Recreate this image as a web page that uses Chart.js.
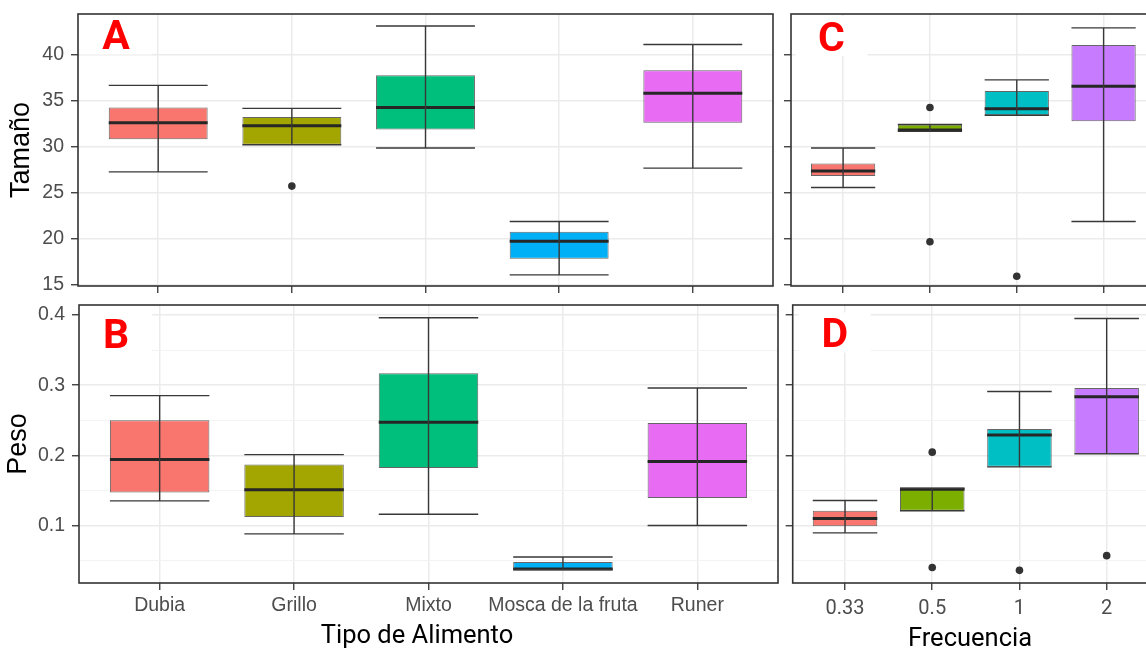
<!DOCTYPE html>
<html><head><meta charset="utf-8">
<script src="https://cdn.jsdelivr.net/npm/chart.js@4.4.1/dist/chart.umd.min.js"></script>
<style>
html,body{margin:0;padding:0;overflow:hidden;background:#fff;}
#wrap{position:relative;width:1146px;height:654px;overflow:hidden;background:#fff;}
canvas{position:absolute;}
</style></head><body>
<div id="wrap">
<canvas id="cA" width="780" height="300" style="left:0;top:0;width:780px;height:300px"></canvas>
<canvas id="cC" width="400" height="300" style="left:780px;top:0;width:400px;height:300px"></canvas>
<canvas id="cB" width="785" height="364" style="left:0;top:290px;width:785px;height:364px"></canvas>
<canvas id="cD" width="400" height="364" style="left:780px;top:290px;width:400px;height:364px"></canvas>
</div>
<script>
// ---------- categories & tick labels ----------
const foodTypes = ['Dubia', 'Grillo', 'Mixto', 'Mosca de la fruta', 'Runer'];
const freqLabels = ['0.33', '0.5', '1', '2'];
const foodColors = ['#F8766D', '#A3A500', '#00BF7D', '#00B0F6', '#E76BF3'];
const freqColors = ['#F8766D', '#7CAE00', '#00BFC4', '#C77CFF'];
const sizeTicks = [15, 20, 25, 30, 35, 40];
const sizeMinorTicks = [17.5, 22.5, 27.5, 32.5, 37.5, 42.5];
const weightTicks = [0.1, 0.2, 0.3, 0.4];
const weightMinorTicks = [0.05, 0.15, 0.25, 0.35];
const sizeRange = [14.89, 44.46];
const weightRange = [0.018, 0.4142];

// ---------- A: Tamaño by Tipo de Alimento ----------
const sizeFoodLow  = [27.3, 30.25, 29.9, 16.1, 27.7];
const sizeFoodQ1   = [30.85, 30.25, 31.9, 17.85, 32.65];
const sizeFoodMed  = [32.65, 32.3, 34.3, 19.75, 35.85];
const sizeFoodQ3   = [34.3, 33.25, 37.8, 20.8, 38.35];
const sizeFoodHigh = [36.7, 34.2, 43.15, 21.9, 41.15];
const sizeFoodOut  = [[], [25.75], [], [], []];

// ---------- B: Peso by Tipo de Alimento ----------
const weightFoodLow  = [0.135, 0.088, 0.116, 0.037, 0.100];
const weightFoodQ1   = [0.147, 0.112, 0.182, 0.037, 0.139];
const weightFoodMed  = [0.194, 0.151, 0.247, 0.038, 0.191];
const weightFoodQ3   = [0.250, 0.187, 0.317, 0.048, 0.246];
const weightFoodHigh = [0.285, 0.201, 0.396, 0.055, 0.296];
const weightFoodOut  = [[], [], [], [], []];

// ---------- C: Tamaño by Frecuencia ----------
const sizeFreqLow  = [25.6, 31.7, 33.45, 21.9];
const sizeFreqQ1   = [26.85, 31.7, 33.45, 32.8];
const sizeFreqMed  = [27.4, 31.85, 34.15, 36.6];
const sizeFreqQ3   = [28.2, 32.45, 36.1, 41.1];
const sizeFreqHigh = [29.9, 32.45, 37.3, 42.95];
const sizeFreqOut  = [[], [34.3, 19.7], [15.95], []];

// ---------- D: Peso by Frecuencia ----------
const weightFreqLow  = [0.0895, 0.121, 0.1835, 0.202];
const weightFreqQ1   = [0.099, 0.121, 0.1835, 0.202];
const weightFreqMed  = [0.110, 0.1515, 0.229, 0.2835];
const weightFreqQ3   = [0.121, 0.153, 0.2375, 0.296];
const weightFreqHigh = [0.1355, 0.153, 0.291, 0.395];
const weightFreqOut  = [[], [0.2045, 0.040], [0.036], [0.057]];

function zeroPad(ax) { ax.paddingTop = 0; ax.paddingBottom = 0; ax.paddingLeft = 0; ax.paddingRight = 0; }

function makeChart(id, c) {
  const n = c.cats.length;
  const pos = c.cats.map((_, i) => i + 1);
  const boxData = pos.map((p, i) => ({x: p, y: [c.q1[i], c.q3[i]]}));
  const outData = [];
  c.out.forEach((arr, i) => arr.forEach(v => outData.push({x: i + 1, y: v})));
  const yTickVals = c.major.concat(c.minor).sort((a, b) => a - b);
  const isMajor = v => c.major.some(m => Math.abs(m - v) < 1e-9);

  const extras = {
    id: 'extras_' + id,
    beforeDatasetsDraw(chart) {
      const {ctx, chartArea: a} = chart;
      const lx = a.left + c.letterDx, ly = a.top + c.letterDy;
      ctx.save();
      ctx.fillStyle = '#ffffff';
      ctx.fillRect(lx - 36, ly - 14.5 - 20, 72, 40);
      ctx.font = 'bold 41px Roboto';
      ctx.fillStyle = '#FF0000';
      ctx.textAlign = 'center';
      ctx.textBaseline = 'alphabetic';
      ctx.fillText(c.letter, lx, ly);
      ctx.restore();
    },
    afterDatasetsDraw(chart) {
      const {ctx} = chart;
      const meta = chart.getDatasetMeta(0);
      const ys = chart.scales.y;
      ctx.save();
      meta.data.forEach((bar, i) => {
        const x = bar.x, hw = bar.width / 2;
        const yl = ys.getPixelForValue(c.low[i]);
        const yh = ys.getPixelForValue(c.high[i]);
        const ym = ys.getPixelForValue(c.med[i]);
        ctx.strokeStyle = '#262626';
        ctx.lineWidth = 3;
        ctx.beginPath(); ctx.moveTo(x - hw, ym); ctx.lineTo(x + hw, ym); ctx.stroke();
        ctx.strokeStyle = '#383838';
        ctx.lineWidth = 1.4;
        ctx.beginPath();
        ctx.moveTo(x, yl); ctx.lineTo(x, yh);
        ctx.moveTo(x - hw, yl); ctx.lineTo(x + hw, yl);
        ctx.moveTo(x - hw, yh); ctx.lineTo(x + hw, yh);
        ctx.stroke();
      });
      ctx.restore();
    },
    afterDraw(chart) {
      const {ctx, chartArea: a} = chart;
      ctx.save();
      ctx.strokeStyle = '#333333';
      ctx.lineWidth = 1.6;
      ctx.strokeRect(a.left, a.top, a.right - a.left, a.bottom - a.top);
      if (c.xTitle) {
        ctx.font = '25.5px Roboto';
        ctx.fillStyle = '#000000';
        ctx.textAlign = 'center';
        ctx.textBaseline = 'alphabetic';
        ctx.fillText(c.xTitle, c.xTitleX, c.xTitleY);
      }
      ctx.restore();
    }
  };

  return new Chart(document.getElementById(id), {
    type: 'bar',
    data: {
      datasets: [
        {
          type: 'bar',
          data: boxData,
          backgroundColor: c.colors,
          borderColor: 'rgba(51,51,51,0.75)',
          borderWidth: 1,
          borderSkipped: false,
          categoryPercentage: 1,
          barPercentage: 0.74
        },
        {
          type: 'scatter',
          data: outData,
          showLine: false,
          pointRadius: 3.8,
          pointBackgroundColor: '#333333',
          pointBorderWidth: 0
        }
      ]
    },
    options: {
      responsive: false,
      animation: false,
      devicePixelRatio: 1,
      layout: {padding: {top: c.padTop, right: c.padRight, left: 0, bottom: 0}},
      plugins: {legend: {display: false}, tooltip: {enabled: false}},
      scales: {
        x: {
          type: 'linear',
          offset: false,
          bounds: 'data',
          min: 0.4,
          max: n + 0.6,
          afterBuildTicks: ax => { ax.ticks = pos.map(v => ({value: v})); },
          afterFit: ax => { ax.height = c.xH; zeroPad(ax); },
          ticks: {
            autoSkip: false, maxRotation: 0, minRotation: 0,
            padding: c.xTickPad,
            font: {family: c.tickFont, size: c.tickSize},
            color: '#4D4D4D',
            callback: v => c.showX ? c.cats[Math.round(v) - 1] : ''
          },
          grid: {offset: false, color: '#EBEBEB', lineWidth: 1.5, tickLength: 7, tickColor: '#333333', tickWidth: 1.3},
          border: {display: false}
        },
        y: {
          type: 'linear',
          bounds: 'data',
          min: c.range[0],
          max: c.range[1],
          afterBuildTicks: ax => { ax.ticks = yTickVals.map(v => ({value: v})); },
          afterFit: ax => { ax.width = c.yW; zeroPad(ax); },
          ticks: {
            padding: 7,
            font: {family: c.tickFont, size: c.tickSize},
            color: '#4D4D4D',
            callback: v => (c.showY && isMajor(v)) ? c.fmt(v) : ''
          },
          grid: {
            color: ctx => isMajor(ctx.tick.value) ? '#EBEBEB' : '#F3F3F3',
            lineWidth: ctx => isMajor(ctx.tick.value) ? 1.5 : 1,
            tickColor: ctx => isMajor(ctx.tick.value) ? '#333333' : 'rgba(0,0,0,0)',
            tickLength: 7,
            tickWidth: 1.3
          },
          border: {display: false},
          title: c.yTitle ? {
            display: true, text: c.yTitle, color: '#000000',
            font: {family: 'Liberation Sans', size: 27},
            padding: {top: c.yTitlePad, bottom: 0}
          } : {display: false}
        }
      }
    },
    plugins: [extras]
  });
}

makeChart('cA', {
  cats: foodTypes, colors: foodColors,
  low: sizeFoodLow, q1: sizeFoodQ1, med: sizeFoodMed, q3: sizeFoodQ3, high: sizeFoodHigh, out: sizeFoodOut,
  major: sizeTicks, minor: sizeMinorTicks, range: sizeRange, fmt: v => String(v),
  showX: false, showY: true, yTitle: 'Tamaño', yTitlePad: 5,
  tickFont: 'Liberation Sans', tickSize: 19.5, xTickPad: 3,
  padTop: 14, padRight: 7, yW: 78, xH: 14,
  letter: 'A', letterDx: 38, letterDy: 35
});
makeChart('cC', {
  cats: freqLabels, colors: freqColors,
  low: sizeFreqLow, q1: sizeFreqQ1, med: sizeFreqMed, q3: sizeFreqQ3, high: sizeFreqHigh, out: sizeFreqOut,
  major: sizeTicks, minor: sizeMinorTicks, range: sizeRange, fmt: v => String(v),
  showX: false, showY: false, yTitle: null,
  tickFont: 'Roboto', tickSize: 20, xTickPad: 5,
  padTop: 14, padRight: 24.3, yW: 11, xH: 14,
  letter: 'C', letterDx: 40.5, letterDy: 36.5
});
makeChart('cB', {
  cats: foodTypes, colors: foodColors,
  low: weightFoodLow, q1: weightFoodQ1, med: weightFoodMed, q3: weightFoodQ3, high: weightFoodHigh, out: weightFoodOut,
  major: weightTicks, minor: weightMinorTicks, range: weightRange, fmt: v => v.toFixed(1),
  showX: true, showY: true, yTitle: 'Peso', yTitlePad: 2,
  tickFont: 'Liberation Sans', tickSize: 19.5, xTickPad: 4,
  padTop: 15, padRight: 7, yW: 79, xH: 71,
  letter: 'B', letterDx: 37, letterDy: 43,
  xTitle: 'Tipo de Alimento', xTitleX: 417, xTitleY: 353
});
makeChart('cD', {
  cats: freqLabels, colors: freqColors,
  low: weightFreqLow, q1: weightFreqQ1, med: weightFreqMed, q3: weightFreqQ3, high: weightFreqHigh, out: weightFreqOut,
  major: weightTicks, minor: weightMinorTicks, range: weightRange, fmt: v => v.toFixed(1),
  showX: true, showY: false, yTitle: null,
  tickFont: 'Roboto', tickSize: 20, xTickPad: 7,
  padTop: 15, padRight: 21, yW: 12.7, xH: 71,
  letter: 'D', letterDx: 42, letterDy: 42,
  xTitle: 'Frecuencia', xTitleX: 190, xTitleY: 356
});
</script>
</body></html>
